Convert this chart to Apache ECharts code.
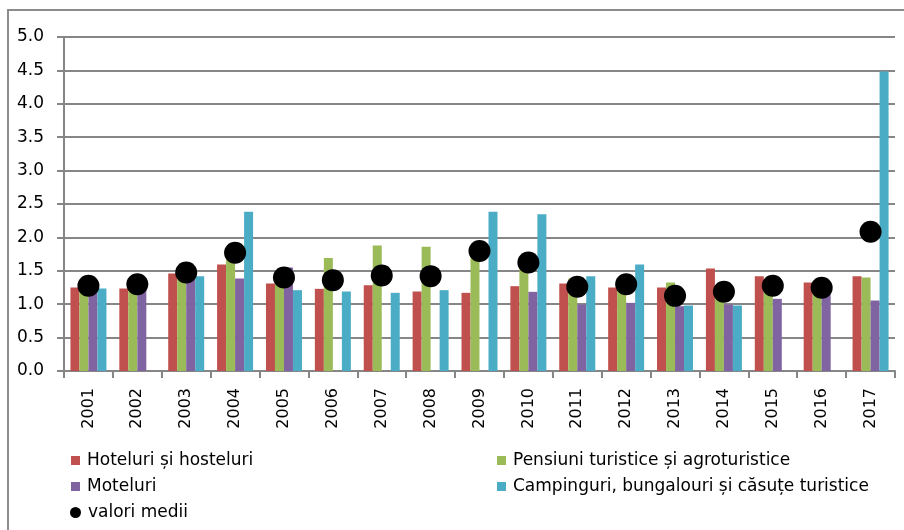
<!DOCTYPE html>
<html>
<head>
<meta charset="utf-8">
<script src="https://cdn.jsdelivr.net/npm/echarts@6/dist/echarts.min.js"></script>
<style>
  html, body { margin: 0; padding: 0; background: #fff; }
  #chart { width: 904px; height: 530px; }
</style>
</head>
<body>
<div id="chart"></div>
<script>
// ani (categorii)
const years = ['2001', '2002', '2003', '2004', '2005', '2006', '2007', '2008', '2009',
  '2010', '2011', '2012', '2013', '2014', '2015', '2016', '2017'];

// valorile (null = lipsa)
const hoteluri = [1.25, 1.235, 1.46, 1.595, 1.31, 1.23, 1.285, 1.19, 1.17, 1.27, 1.31, 1.25, 1.25, 1.535, 1.42, 1.325, 1.42];
const pensiuni = [1.32, 1.35, 1.52, 1.72, 1.50, 1.69, 1.88, 1.86, 1.83, 1.70, 1.385, 1.335, 1.325, 1.23, 1.325, 1.25, 1.40];
const moteluri = [1.30, 1.31, 1.50, 1.385, 1.55, null, null, null, null, 1.185, 0.995, 1.02, 0.97, 0.995, 1.08, 1.16, 1.055];
const campinguri = [1.235, null, 1.42, 2.385, 1.21, 1.19, 1.17, 1.21, 2.385, 2.345, 1.42, 1.595, 0.98, 0.98, null, null, 4.485];
const valoriMedii = [1.275, 1.30, 1.475, 1.77, 1.40, 1.36, 1.43, 1.42, 1.795, 1.625, 1.26, 1.30, 1.125, 1.185, 1.275, 1.245, 2.085];

const names = ['Hoteluri și hosteluri', 'Pensiuni turistice și agroturistice', 'Moteluri',
  'Campinguri, bungalouri și căsuțe turistice', 'valori medii'];
const colors = ['#C0504D', '#9BBB59', '#8064A2', '#4BACC6'];

const gray = '#868686';
const font = 'DejaVu Sans';

const chart = echarts.init(document.getElementById('chart'));

function barSeries(i, data) {
  return {
    name: names[i],
    type: 'bar',
    data: data,
    barWidth: 9,
    barGap: '0%',
    itemStyle: { color: colors[i] }
  };
}

const legendText = { fontFamily: font, fontSize: 17, color: '#000', padding: [0, 0, 0, 2] };

// o legenda pe fiecare pozitie, ca in original (doua coloane)
function legendAt(name, left, top, icon, size) {
  return {
    left: left, top: top, padding: 0,
    itemWidth: size, itemHeight: size, icon: icon,
    data: [name], textStyle: legendText
  };
}

const option = {
  backgroundColor: '#fff',
  animation: false,
  graphic: [{
    type: 'rect',
    shape: { x: 8, y: 10, width: 1000, height: 1000 },
    style: { fill: 'none', stroke: '#8c8c8c', lineWidth: 2 },
    silent: true
  }],
  grid: { left: 64, right: 9, top: 37, bottom: 159 },
  legend: [
    legendAt(names[0], 71, 452, 'rect', 9),
    legendAt(names[2], 71, 478, 'rect', 9),
    legendAt(names[4], 70, 504, 'circle', 11),
    legendAt(names[1], 497, 452, 'rect', 9),
    legendAt(names[3], 497, 478, 'rect', 9)
  ],
  xAxis: {
    type: 'category',
    data: years,
    axisLine: { lineStyle: { color: gray, width: 2 } },
    axisTick: { show: true, length: 7, lineStyle: { color: gray, width: 2 } },
    axisLabel: {
      rotate: 90, fontFamily: font, fontSize: 16, color: '#000', margin: 17
    }
  },
  yAxis: {
    type: 'value',
    min: 0, max: 5, interval: 0.5,
    axisLine: { show: true, lineStyle: { color: gray, width: 2 } },
    axisTick: { show: true, length: 7, lineStyle: { color: gray, width: 2 } },
    splitLine: { lineStyle: { color: gray, width: 2 } },
    axisLabel: {
      fontFamily: font, fontSize: 17, color: '#000', margin: 20,
      formatter: v => v.toFixed(1)
    }
  },
  series: [
    barSeries(0, hoteluri),
    barSeries(1, pensiuni),
    barSeries(2, moteluri),
    barSeries(3, campinguri),
    {
      name: names[4],
      type: 'scatter',
      data: valoriMedii,
      symbol: 'circle',
      symbolSize: 22,
      itemStyle: { color: '#000', opacity: 1 },
      z: 5
    }
  ]
};

chart.setOption(option);
</script>
</body>
</html>
